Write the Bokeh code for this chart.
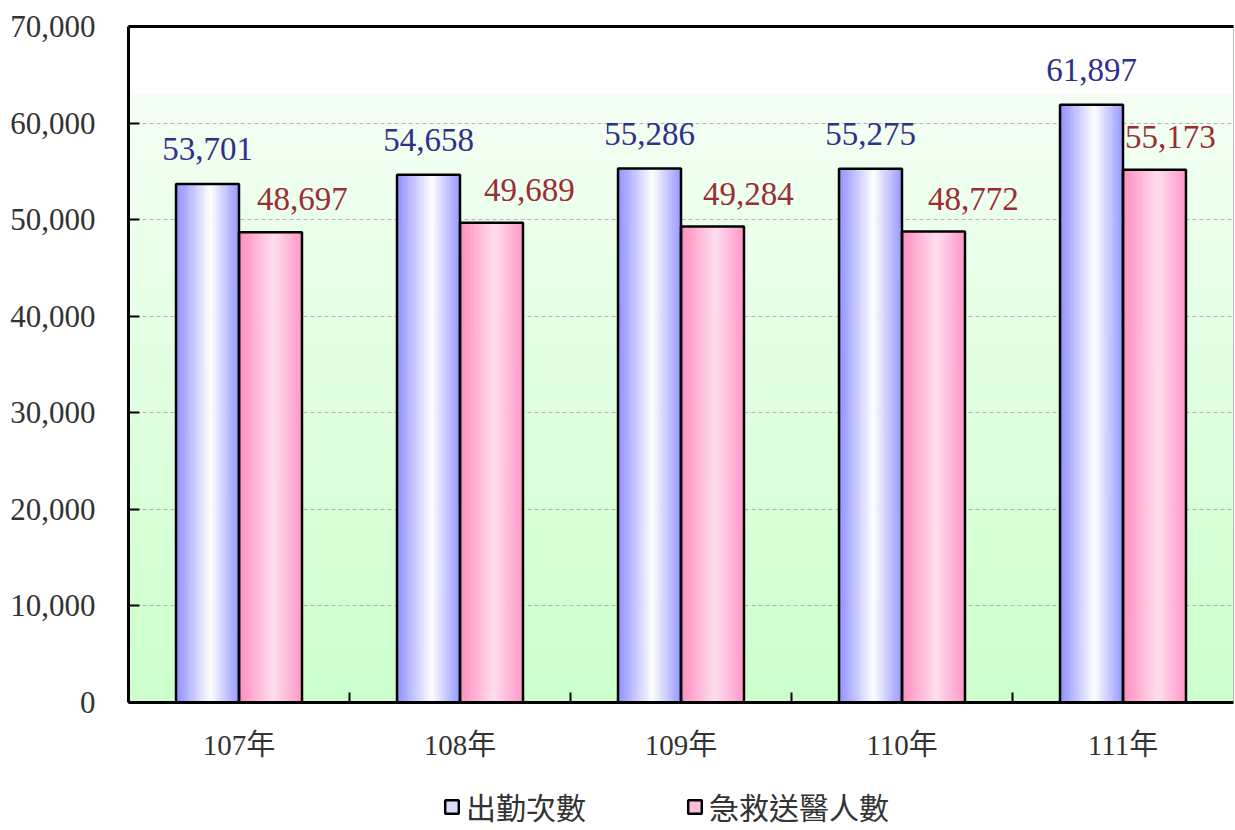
import numpy as np
from bokeh.plotting import figure
from bokeh.layouts import column
from bokeh.models import (FixedTicker, NumeralTickFormatter, LinearAxis, Legend,
                          LegendItem, ColumnDataSource, Range1d)
from bokeh.core.properties import value
from bokeh.embed import file_html
from bokeh.resources import INLINE

# ---------------- data ----------------
categories = ["107年", "108年", "109年", "110年", "111年"]
dispatches = [53701, 54658, 55286, 55275, 61897]      # 出勤次數
transported = [48697, 49689, 49284, 48772, 55173]     # 急救送醫人數
series_names = ["出勤次數", "急救送醫人數"]
y_ticks = [0, 10000, 20000, 30000, 40000, 50000, 60000, 70000]

# ---------------- style ----------------
SERIF = "Liberation Serif"
MIXED = "Liberation Serif, Noto Sans CJK TC"
BAR_W = 0.285
N_STRIPS = 28
red_label_dx = [32, 38, 36, 40, 16]

W = 1235
H_MAIN, H_LEG = 770, 60
p = figure(width=W, height=H_MAIN, output_backend="svg", toolbar_location=None,
           x_range=Range1d(0, len(categories)), y_range=Range1d(0, 70000),
           min_border_left=128, min_border_top=26, min_border_right=2,
           min_border_bottom=68)
p.outline_line_color = "#aaaaaa"
p.outline_line_width = 1
p.background_fill_color = "white"
p.border_fill_color = "white"

# background vertical gradient (white at top to light green at bottom)
ny = 140
ys = np.linspace(0, 1, ny)  # 0 = bottom
img = np.zeros((ny, 1), dtype=np.uint32)
view = img.view(dtype=np.uint8).reshape((ny, 1, 4))
for k, t in enumerate(ys):
    v = t * 70000
    if v > 63000:
        r = 255
    else:
        f = v / 63000.0
        r = int(round(204 + (244 - 204) * f))
    view[k, 0] = [r, 255, r, 255]
p.image_rgba(image=[img], x=0, y=0, dw=len(categories), dh=70000, level="image")


def interp_color(stops, t):
    ts = [s[0] for s in stops]
    cs = np.array([s[1] for s in stops], dtype=float)
    c = [np.interp(t, ts, cs[:, j]) for j in range(3)]
    return "#%02x%02x%02x" % tuple(int(round(x)) for x in c)


blue_stops = [(0.0, (140, 140, 255)), (0.55, (255, 255, 255)), (1.0, (150, 150, 255))]
pink_stops = [(0.0, (255, 140, 192)), (0.55, (255, 222, 238)), (1.0, (255, 150, 200))]

L, R, T, C = [], [], [], []
for i, cat in enumerate(categories):
    c = i + 0.5
    for left0, val, stops in ((c - BAR_W, dispatches[i], blue_stops),
                              (c, transported[i], pink_stops)):
        for s in range(N_STRIPS):
            a = left0 + BAR_W * s / N_STRIPS
            b = left0 + BAR_W * (s + 1) / N_STRIPS
            L.append(a); R.append(b); T.append(val)
            C.append(interp_color(stops, (s + 0.5) / N_STRIPS))
strips = ColumnDataSource(dict(left=L, right=R, top=T, color=C))
p.quad(left="left", right="right", top="top", bottom=0, source=strips,
       fill_color="color", line_color="color", line_width=0.6)

centers = [i + 0.5 for i in range(len(categories))]
p.quad(left=[c - BAR_W for c in centers], right=centers, top=dispatches, bottom=0,
       fill_color=None, line_color="black", line_width=2.5)
p.quad(left=centers, right=[c + BAR_W for c in centers], top=transported, bottom=0,
       fill_color=None, line_color="black", line_width=2.5)

# value labels
blue_src = ColumnDataSource(dict(x=[c - BAR_W / 2 for c in centers], y=dispatches,
                                 t=[f"{v:,}" for v in dispatches]))
p.text(x="x", y="y", text="t", source=blue_src, text_align="center",
       text_baseline="bottom", y_offset=-24, text_font=value(SERIF),
       text_font_size="33px", text_color="#30308c")
red_src = ColumnDataSource(dict(x=[c + BAR_W / 2 for c in centers], y=transported,
                                t=[f"{v:,}" for v in transported], dx=red_label_dx))
p.text(x="x", y="y", text="t", source=red_src, text_align="center", x_offset="dx",
       text_baseline="bottom", y_offset=-22, text_font=value(SERIF),
       text_font_size="33px", text_color="#9b2d35")

# axes
p.xgrid.visible = False
p.ygrid.ticker = FixedTicker(ticks=y_ticks[1:-1])
p.ygrid.grid_line_color = "#b4b4b4"
p.ygrid.grid_line_dash = "4 3"
p.ygrid.grid_line_width = 1

ya = p.yaxis[0]
ya.ticker = FixedTicker(ticks=y_ticks)
ya.formatter = NumeralTickFormatter(format="0,0")
ya.major_tick_in = 11
ya.major_tick_out = 0
ya.minor_tick_line_color = None
ya.axis_line_width = 3
ya.major_tick_line_width = 2
ya.major_label_text_font = SERIF
ya.major_label_text_font_size = "31px"
ya.major_label_text_color = "#333333"
ya.major_label_standoff = 33

xa = p.xaxis[0]
xa.ticker = FixedTicker(ticks=centers, minor_ticks=list(range(1, len(categories))))
xa.major_label_overrides = {c: cat for c, cat in zip(centers, categories)}
xa.major_tick_in = 0
xa.major_tick_out = 0
xa.minor_tick_in = 10
xa.minor_tick_out = 0
xa.minor_tick_line_width = 2
xa.minor_tick_line_color = "black"
xa.axis_line_width = 3
xa.major_label_text_font = MIXED
xa.major_label_text_font_size = "29px"
xa.major_label_text_color = "#333333"
xa.major_label_standoff = 26

top_axis = LinearAxis(ticker=FixedTicker(ticks=[]), axis_line_width=3,
                      major_tick_line_color=None, minor_tick_line_color=None)
p.add_layout(top_axis, "above")

# legend figure below the chart (legend swatches only; no visible marks)
p2 = figure(width=W, height=H_LEG, output_backend="svg", toolbar_location=None,
            x_range=Range1d(0, 1), y_range=Range1d(0, 1),
            x_axis_location=None, y_axis_location=None,
            min_border_left=0, min_border_right=0, min_border_top=0, min_border_bottom=0)
p2.outline_line_color = None
p2.xgrid.visible = False
p2.ygrid.visible = False
r1 = p2.quad(left=[-5], right=[-4], top=[-4], bottom=[-5], fill_color="#dcdcff",
             line_color="black", line_width=2.5)
r2 = p2.quad(left=[-5], right=[-4], top=[-4], bottom=[-5], fill_color="#ffbfdc",
             line_color="black", line_width=2.5)
legend = Legend(items=[LegendItem(label=series_names[0], renderers=[r1]),
                       LegendItem(label=series_names[1], renderers=[r2])],
                orientation="horizontal", location=(315, 2),
                padding=0, margin=0, spacing=100, glyph_width=17, glyph_height=17,
                label_standoff=6, label_text_font="Noto Sans CJK TC",
                label_text_font_size="30px", label_text_color="#333333",
                border_line_alpha=0, background_fill_alpha=0)
p2.add_layout(legend)

layout = column(p, p2, spacing=0)
open("out.html", "w").write(file_html(layout, INLINE))
